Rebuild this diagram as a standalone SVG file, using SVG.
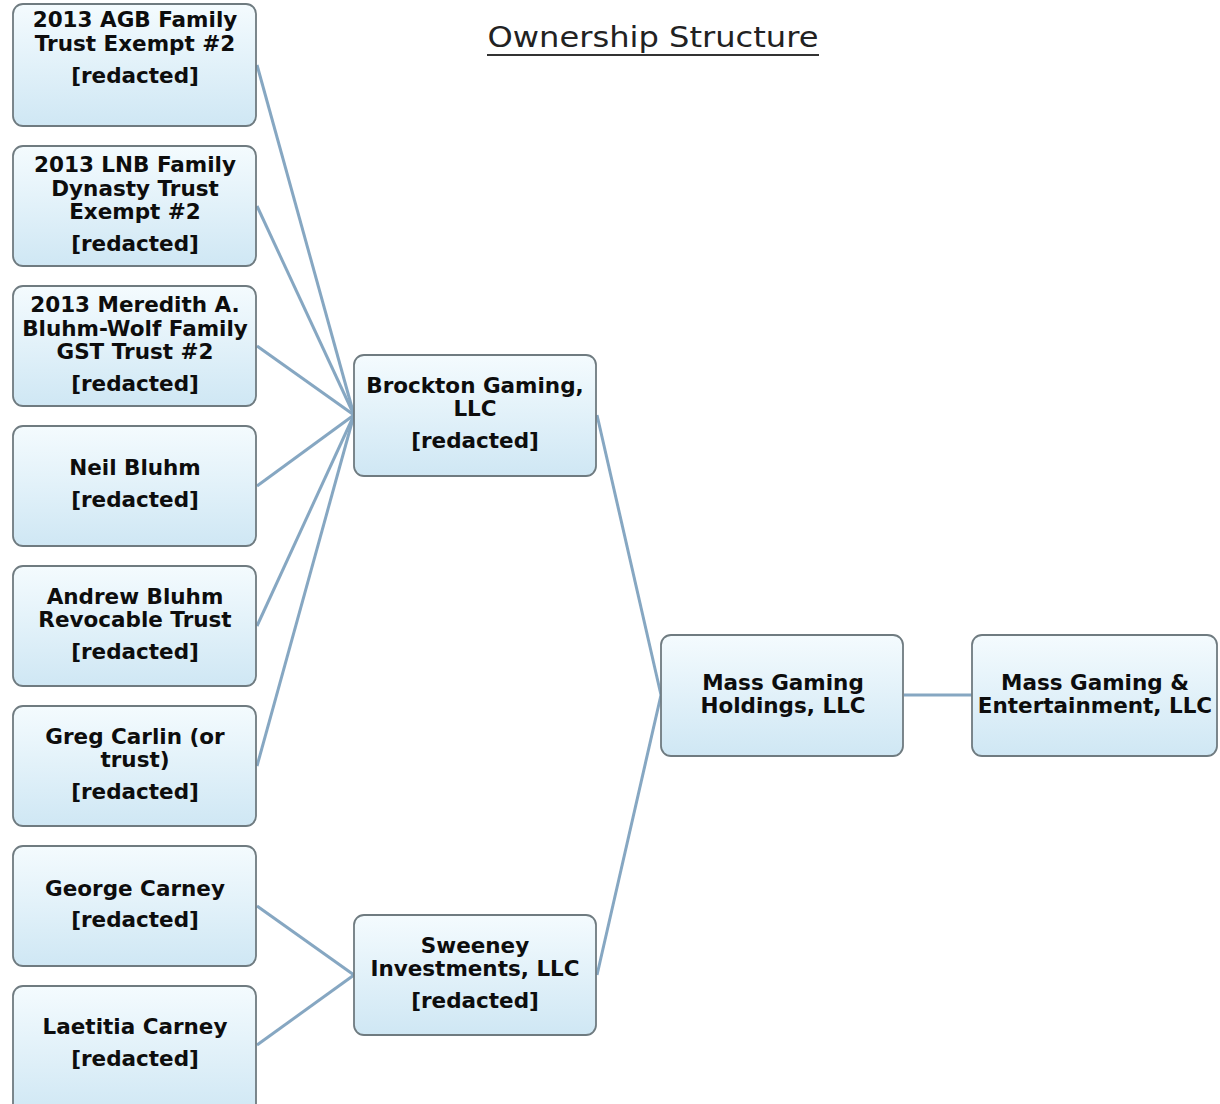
<svg xmlns="http://www.w3.org/2000/svg" width="1220" height="1104" viewBox="0 0 1220 1104">
<defs>
<linearGradient id="g" x1="0" y1="0" x2="0" y2="1">
<stop offset="0" stop-color="#f4fbfe"/>
<stop offset="1" stop-color="#cfe7f4"/>
</linearGradient>
<style>
.box{fill:url(#g);stroke:#6f7b80;stroke-width:1.8}
.t{font-family:"DejaVu Sans","Verdana",sans-serif;font-weight:bold;font-size:21.5px;fill:#0d0d0d;text-anchor:middle}
.c{stroke:#86a7c2;stroke-width:3;fill:none}
.title{font-family:"DejaVu Sans","Verdana",sans-serif;font-size:29px;fill:#222;text-anchor:middle}
</style>
</defs>
<rect width="1220" height="1104" fill="#fff"/>
<g id="title">
<text class="title" x="653" y="47" textLength="331" lengthAdjust="spacingAndGlyphs">Ownership Structure</text>
<line x1="487" y1="55" x2="819" y2="55" stroke="#333" stroke-width="2"/>
</g>
<g id="connectors">
<line class="c" x1="257" y1="65" x2="354" y2="415"/>
<line class="c" x1="257" y1="206" x2="354" y2="415"/>
<line class="c" x1="257" y1="346" x2="354" y2="415"/>
<line class="c" x1="257" y1="486" x2="354" y2="415"/>
<line class="c" x1="257" y1="626" x2="354" y2="415"/>
<line class="c" x1="257" y1="766" x2="354" y2="415"/>
<line class="c" x1="257" y1="906" x2="354" y2="975"/>
<line class="c" x1="257" y1="1045" x2="354" y2="975"/>
<line class="c" x1="597" y1="415" x2="661" y2="695"/>
<line class="c" x1="597" y1="975" x2="661" y2="695"/>
<line class="c" x1="904" y1="695" x2="972" y2="695"/>
</g>
<g id="n1"><rect class="box" x="13" y="4" width="243" height="122" rx="10"/>
<text class="t" x="135" y="27">2013 AGB Family</text><text class="t" x="135" y="51">Trust Exempt #2</text><text class="t" x="135" y="83">[redacted]</text></g>
<g id="n2"><rect class="box" x="13" y="146" width="243" height="120" rx="10"/>
<text class="t" x="135" y="172">2013 LNB Family</text><text class="t" x="135" y="196">Dynasty Trust</text><text class="t" x="135" y="219">Exempt #2</text><text class="t" x="135" y="251">[redacted]</text></g>
<g id="n3"><rect class="box" x="13" y="286" width="243" height="120" rx="10"/>
<text class="t" x="135" y="312">2013 Meredith A.</text><text class="t" x="135" y="336">Bluhm-Wolf Family</text><text class="t" x="135" y="359">GST Trust #2</text><text class="t" x="135" y="391">[redacted]</text></g>
<g id="n4"><rect class="box" x="13" y="426" width="243" height="120" rx="10"/>
<text class="t" x="135" y="475">Neil Bluhm</text><text class="t" x="135" y="507">[redacted]</text></g>
<g id="n5"><rect class="box" x="13" y="566" width="243" height="120" rx="10"/>
<text class="t" x="135" y="604">Andrew Bluhm</text><text class="t" x="135" y="627">Revocable Trust</text><text class="t" x="135" y="659">[redacted]</text></g>
<g id="n6"><rect class="box" x="13" y="706" width="243" height="120" rx="10"/>
<text class="t" x="135" y="744">Greg Carlin (or</text><text class="t" x="135" y="767">trust)</text><text class="t" x="135" y="799">[redacted]</text></g>
<g id="n7"><rect class="box" x="13" y="846" width="243" height="120" rx="10"/>
<text class="t" x="135" y="896">George Carney</text><text class="t" x="135" y="927">[redacted]</text></g>
<g id="n8"><rect class="box" x="13" y="986" width="243" height="130" rx="10"/>
<text class="t" x="135" y="1034">Laetitia Carney</text><text class="t" x="135" y="1066">[redacted]</text></g>
<g id="brockton"><rect class="box" x="354" y="355" width="242" height="121" rx="10"/>
<text class="t" x="475" y="393">Brockton Gaming,</text><text class="t" x="475" y="416">LLC</text><text class="t" x="475" y="448">[redacted]</text></g>
<g id="sweeney"><rect class="box" x="354" y="915" width="242" height="120" rx="10"/>
<text class="t" x="475" y="953">Sweeney</text><text class="t" x="475" y="976">Investments, LLC</text><text class="t" x="475" y="1008">[redacted]</text></g>
<g id="holdings"><rect class="box" x="661" y="635" width="242" height="121" rx="10"/>
<text class="t" x="783" y="690">Mass Gaming</text><text class="t" x="783" y="713">Holdings, LLC</text></g>
<g id="mge"><rect class="box" x="972" y="635" width="245" height="121" rx="10"/>
<text class="t" x="1095" y="690">Mass Gaming &amp;</text><text class="t" x="1095" y="713">Entertainment, LLC</text></g>
</svg>
